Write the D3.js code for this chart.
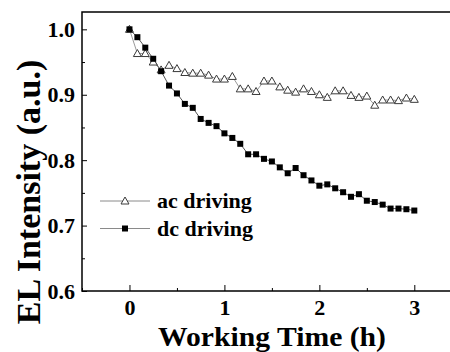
<!DOCTYPE html>
<html>
<head>
<meta charset="utf-8">
<script src="https://cdn.jsdelivr.net/npm/d3@7"></script>
<style>
  body { margin: 0; background: #ffffff; }
  text { font-family: "Times New Roman", "Liberation Serif", serif; font-weight: bold; fill: #000000; }
</style>
</head>
<body>
<div id="chart"></div>
<script>

const SVG_W = 450;
const SVG_H = 352;

const PLOT_LEFT = 82;
const PLOT_RIGHT = 452;   // right edge runs off the picture
const PLOT_TOP = 12;
const PLOT_BOTTOM = 291;

const COLOR_AXIS = "#000000";
const COLOR_AC = "#9a9a9a";
const COLOR_DC = "#555555";
const COLOR_MARK = "#3a3a3a";

// -------------------------------------------------

// working time, minutes
const time_min = [0, 5, 10, 15, 20, 25, 30, 35, 40, 45, 50, 55, 60, 65, 70, 75, 80, 85, 90,
                  95, 100, 105, 110, 115, 120, 125, 130, 135, 140, 145, 150, 155, 160, 165, 170, 175, 180];

const ac_intensity = [1.000, 0.963, 0.963, 0.950, 0.938, 0.945, 0.940, 0.934, 0.933, 0.933,
                      0.930, 0.924, 0.924, 0.928, 0.909, 0.909, 0.905, 0.921, 0.921, 0.912,
                      0.907, 0.904, 0.909, 0.905, 0.900, 0.896, 0.906, 0.906, 0.899, 0.896,
                      0.898, 0.884, 0.892, 0.892, 0.891, 0.895, 0.893];

const dc_intensity = [1.000, 0.988, 0.972, 0.955, 0.936, 0.914, 0.902, 0.886, 0.880, 0.863,
                      0.857, 0.852, 0.841, 0.834, 0.825, 0.809, 0.809, 0.802, 0.798, 0.789,
                      0.780, 0.788, 0.777, 0.769, 0.761, 0.763, 0.757, 0.751, 0.744, 0.748,
                      0.738, 0.736, 0.732, 0.726, 0.726, 0.725, 0.723];

const x_ticks = [0, 1, 2, 3];
const y_ticks = [0.6, 0.7, 0.8, 0.9, 1.0];

const legend_labels = ["ac driving", "dc driving"];

// -------------------------------------------------

let svg = d3.select("#chart")
            .append("svg")
                .attr("width", SVG_W)
                .attr("height", SVG_H);

let scaleX = d3.scaleLinear()
                .domain([-0.5, 3.397])
                .range([PLOT_LEFT, PLOT_RIGHT]);

let scaleY = d3.scaleLinear()
                .domain([0.6, 1.0265])
                .range([PLOT_BOTTOM, PLOT_TOP]);

let data_ac = time_min.map((t, i) => [t / 60, ac_intensity[i]]);
let data_dc = time_min.map((t, i) => [t / 60, dc_intensity[i]]);

// ---------------------------------------------------------------------------------
// axes, ticks point inward

let minor_x = [-0.5, 0.5, 1.5, 2.5];
let minor_y = [0.65, 0.75, 0.85, 0.95];

function style_labels(g) {
    g.select(".domain").remove();
    g.selectAll("line").attr("stroke", COLOR_AXIS);
    g.selectAll("text")
        .attr("font-size", 22)
        .attr("fill", COLOR_AXIS);
}

svg.append("g")
    .attr("transform", "translate(0," + PLOT_BOTTOM + ")")
    .call(d3.axisBottom(scaleX).tickValues(minor_x).tickSize(-3).tickFormat(""))
    .call(style_labels);

svg.append("g")
    .attr("transform", "translate(0," + PLOT_BOTTOM + ")")
    .call(d3.axisBottom(scaleX).tickValues(x_ticks).tickSize(-6).tickPadding(8).tickFormat(d3.format("d")))
    .call(style_labels);

svg.append("g")
    .attr("transform", "translate(" + PLOT_LEFT + ",0)")
    .call(d3.axisLeft(scaleY).tickValues(minor_y).tickSize(-3).tickFormat(""))
    .call(style_labels);

svg.append("g")
    .attr("transform", "translate(" + PLOT_LEFT + ",0)")
    .call(d3.axisLeft(scaleY).tickValues(y_ticks).tickSize(-5).tickPadding(7).tickFormat(d3.format(".1f")))
    .call(style_labels);

svg.selectAll("g").attr("font-family", null).attr("font-size", null);

// frame: left, top, bottom
svg.append("path")
        .attr("d", "M" + PLOT_RIGHT + "," + PLOT_TOP + "H" + PLOT_LEFT + "V" + PLOT_BOTTOM + "H" + PLOT_RIGHT)
        .attr("fill", "none")
        .attr("stroke", COLOR_AXIS)
        .attr("stroke-width", 1.5);

// ---------------------------------------------------------------------------------
// series

let line = d3.line()
                .x(d => scaleX(d[0]))
                .y(d => scaleY(d[1]));

svg.append("path")
        .attr("d", line(data_ac))
        .attr("fill", "none")
        .attr("stroke", COLOR_AC)
        .attr("stroke-width", 1);

svg.append("path")
        .attr("d", line(data_dc))
        .attr("fill", "none")
        .attr("stroke", COLOR_DC)
        .attr("stroke-width", 1);

let triangle = "M0,-4L4,3L-4,3Z";

svg.append("g")
    .selectAll("path")
    .data(data_ac)
    .join("path")
        .attr("transform", d => "translate(" + scaleX(d[0]) + "," + scaleY(d[1]) + ")")
        .attr("d", triangle)
        .attr("fill", "#ffffff")
        .attr("stroke", COLOR_MARK)
        .attr("stroke-width", 1);

svg.append("g")
    .selectAll("rect")
    .data(data_dc)
    .join("rect")
        .attr("x", d => scaleX(d[0]) - 3)
        .attr("y", d => scaleY(d[1]) - 3)
        .attr("width", 6)
        .attr("height", 6)
        .attr("fill", "#000000");

// ---------------------------------------------------------------------------------
// legend

const LEGEND_X = 100;
const LEGEND_Y = 201;
const LEGEND_GAP = 27.5;

legend_labels.forEach((label, i) => {
    let y = LEGEND_Y + i * LEGEND_GAP;

    svg.append("line")
            .attr("x1", LEGEND_X)
            .attr("x2", LEGEND_X + 50)
            .attr("y1", y)
            .attr("y2", y)
            .attr("stroke", "#8a8a8a")
            .attr("stroke-width", 1);

    if (i == 0) {
        svg.append("path")
                .attr("transform", "translate(" + (LEGEND_X + 25) + "," + y + ")")
                .attr("d", triangle)
                .attr("fill", "#ffffff")
                .attr("stroke", COLOR_MARK);
    } else {
        svg.append("rect")
                .attr("x", LEGEND_X + 22)
                .attr("y", y - 3)
                .attr("width", 6)
                .attr("height", 6)
                .attr("fill", "#000000");
    }

    svg.append("text")
            .attr("x", LEGEND_X + 57)
            .attr("y", y + 7)
            .attr("font-size", 22)
            .text(label);
});

// ---------------------------------------------------------------------------------
// axis titles

svg.append("text")
        .attr("x", 272)
        .attr("y", 346)
        .attr("text-anchor", "middle")
        .attr("font-size", 27)
        .attr("textLength", 228)
        .attr("lengthAdjust", "spacingAndGlyphs")
        .text("Working Time (h)");

svg.append("text")
        .attr("transform", "translate(40,192) rotate(-90)")
        .attr("text-anchor", "middle")
        .attr("font-size", 34)
        .text("EL Intensity (a.u.)");

</script>
</body>
</html>
